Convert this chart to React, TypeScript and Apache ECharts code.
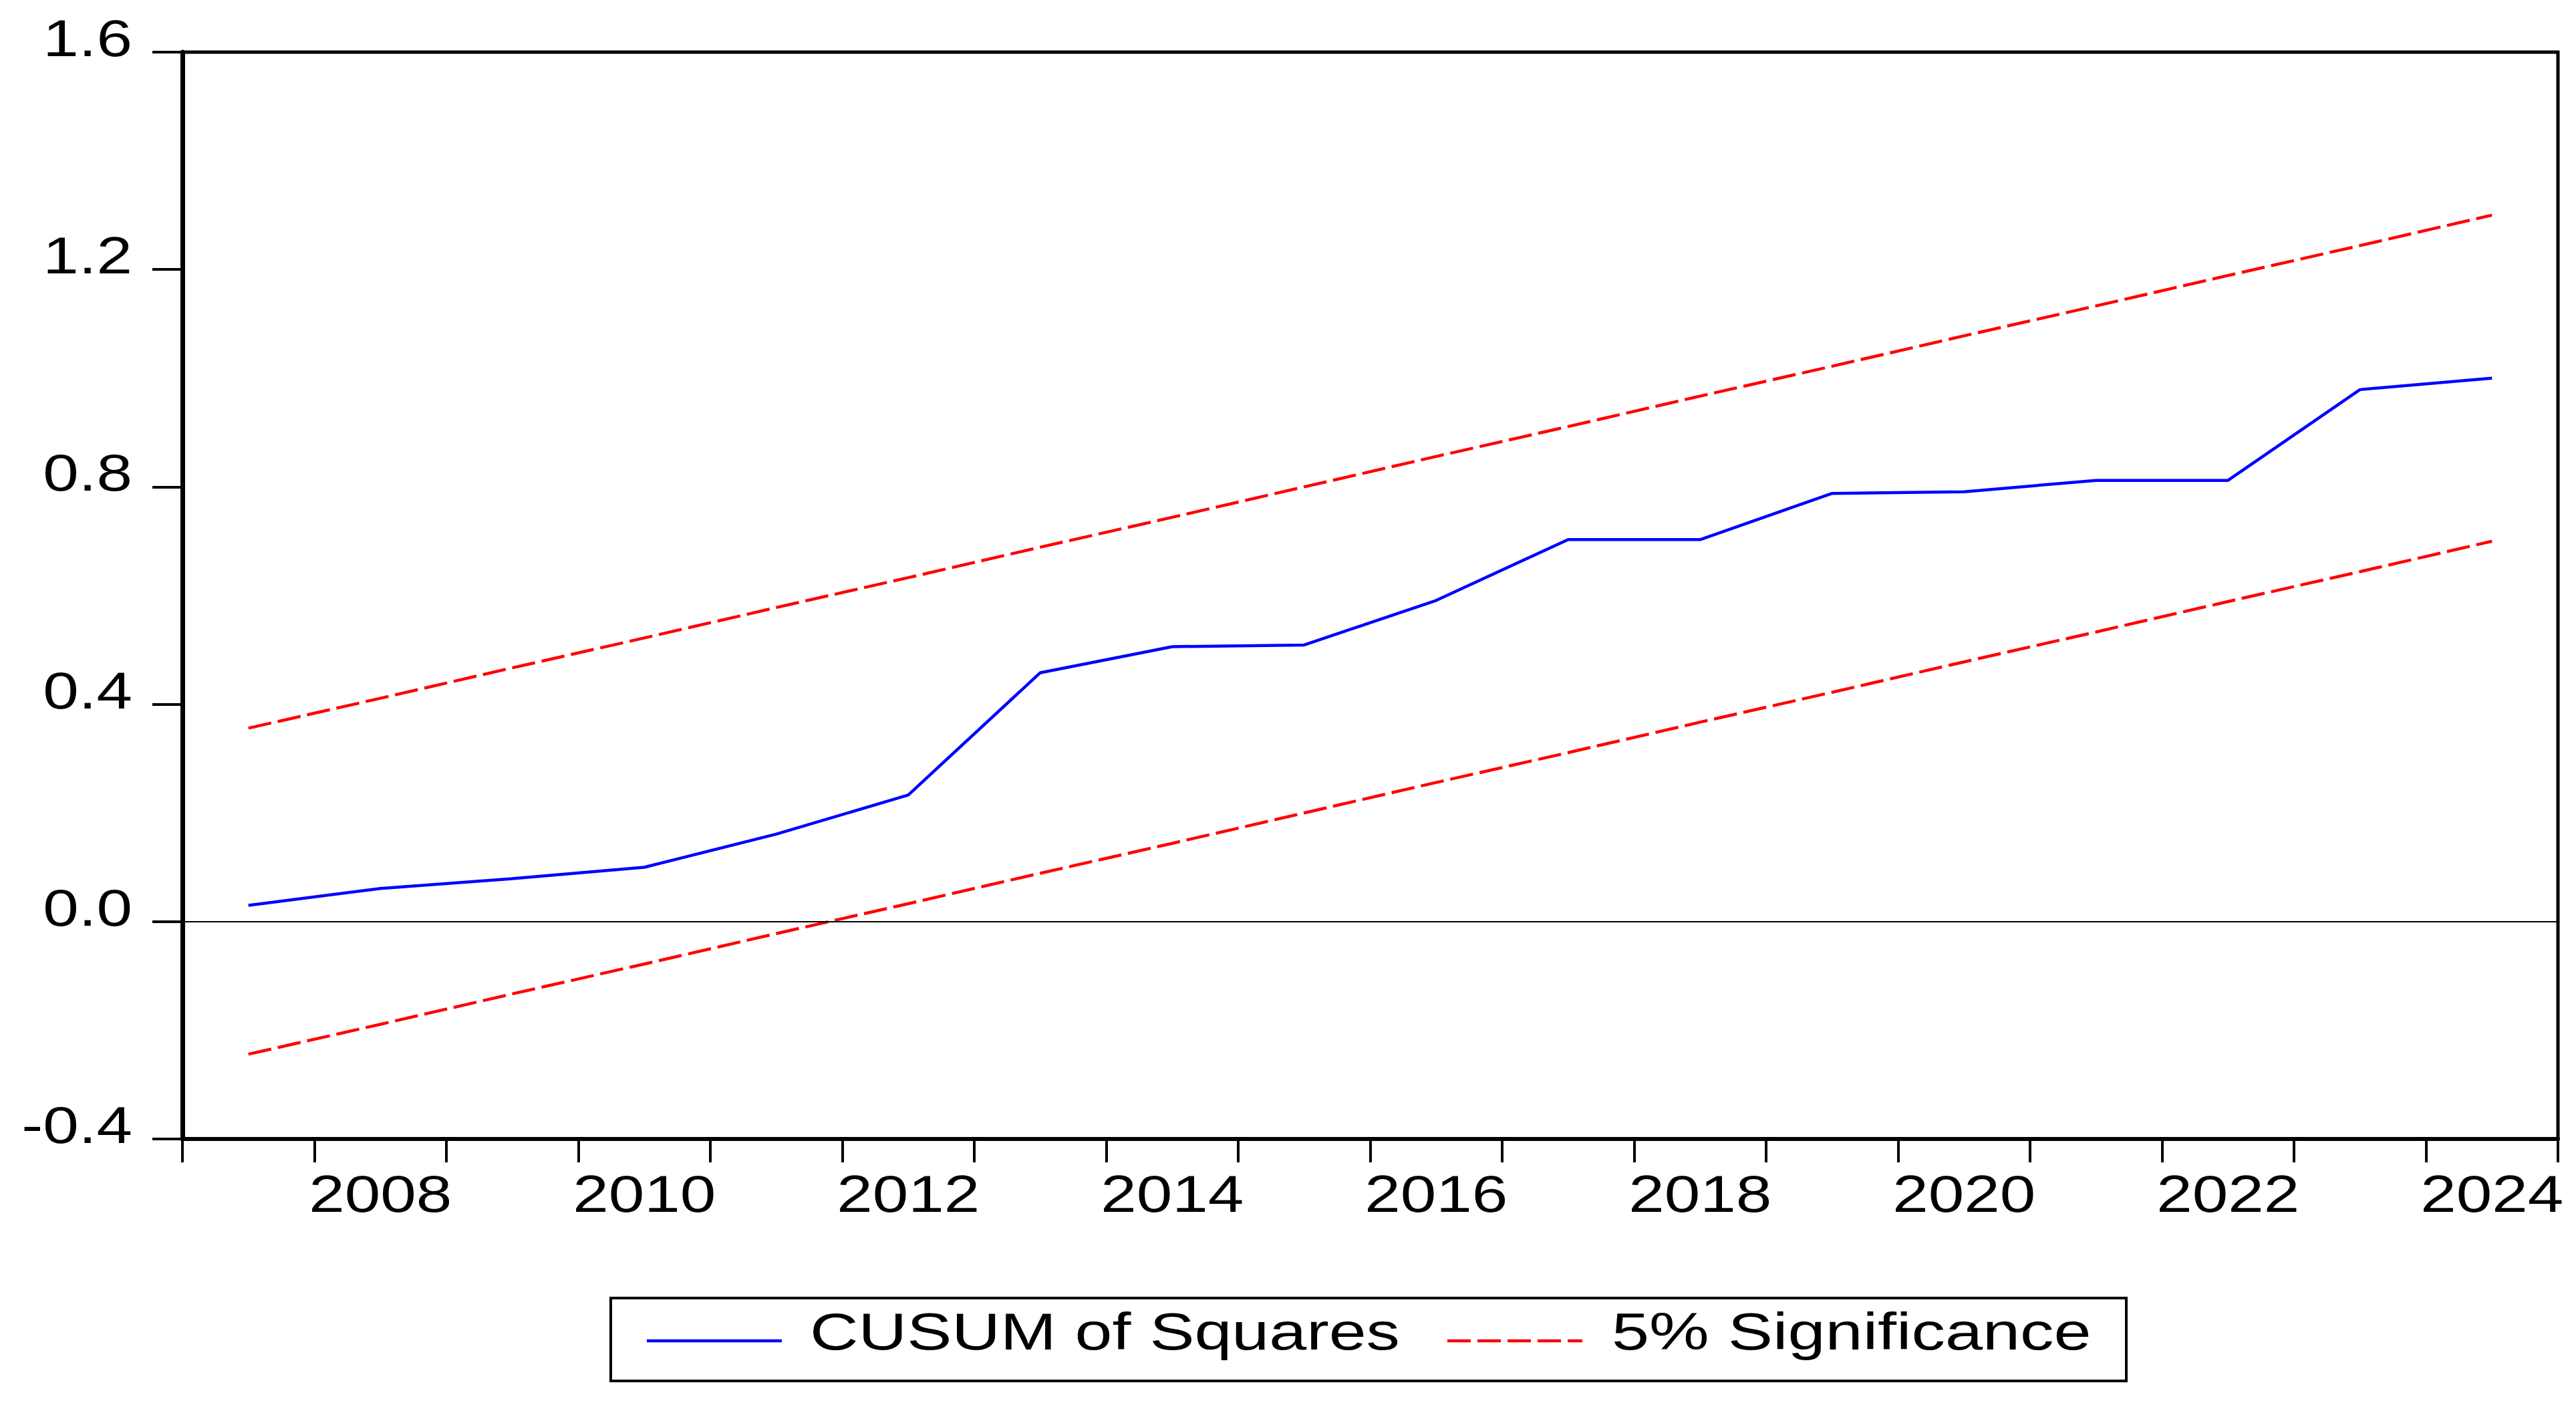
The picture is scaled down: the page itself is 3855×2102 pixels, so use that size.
import React, { useEffect, useRef } from "react";
import * as echarts from "echarts";

const years = ["2007","2008","2009","2010","2011","2012","2013","2014","2015","2016","2017","2018","2019","2020","2021","2022","2023","2024"];
const cusumSquares = [0.030,0.061,0.079,0.100,0.161,0.233,0.458,0.506,0.509,0.591,0.703,0.703,0.788,0.791,0.812,0.812,0.979,1.000];
const upperBound = [0.356,0.411,0.467,0.522,0.578,0.633,0.689,0.744,0.800,0.856,0.911,0.967,1.022,1.078,1.133,1.189,1.244,1.300];
const lowerBound = [-0.244,-0.189,-0.133,-0.078,-0.022,0.033,0.089,0.144,0.200,0.256,0.311,0.367,0.422,0.478,0.533,0.589,0.644,0.700];
const xTickLabels = ["2008","2010","2012","2014","2016","2018","2020","2022","2024"];
const yTickValues = [-0.4, 0.0, 0.4, 0.8, 1.2, 1.6];
const yTicks = { min: -0.4, max: 1.6, interval: 0.4 };
const legendNames = ["CUSUM of Squares", "5% Significance"];

const FONT = "'Liberation Sans', Arial, sans-serif";
const BLUE = "#0000ff";
const RED = "#ff0000";
const DASH = [35, 10];

const GRID = { left: 273, top: 78, width: 3555, height: 1626 };

function txt(text: string, x: number, y: number, align: string, size: number, sx: number) {
  return {
    type: "text", x, y, scaleX: sx, scaleY: 1, silent: true, z: 10,
    style: {
      text, fill: "#000", fontSize: size, fontFamily: FONT,
      align, verticalAlign: "middle", textAlign: align, textVerticalAlign: "middle",
    },
  };
}

export default function App() {
  const ref = useRef<HTMLDivElement>(null);
  useEffect(() => {
    document.body.style.margin = "0";
    const chart = echarts.init(ref.current!, null, { renderer: "svg" });
    chart.setOption({
      animation: false,
      backgroundColor: "#ffffff",
      grid: {
        ...GRID,
        show: true, borderColor: "#000", borderWidth: 5, backgroundColor: "transparent",
      },
      xAxis: {
        type: "category",
        data: years,
        boundaryGap: true,
        axisLine: { onZero: false, lineStyle: { color: "#000", width: 6 } },
        axisTick: { show: true, interval: 0, length: 35, lineStyle: { color: "#000", width: 4 } },
        axisLabel: { show: false },
        splitLine: { show: false },
      },
      yAxis: {
        type: "value",
        min: yTicks.min, max: yTicks.max, interval: yTicks.interval,
        axisLine: { show: true, lineStyle: { color: "#000", width: 7 } },
        axisTick: { show: true, length: 45, lineStyle: { color: "#000", width: 4 } },
        axisLabel: { show: false },
        splitLine: { show: false },
      },
      series: [
        {
          name: legendNames[0], type: "line", data: cusumSquares,
          symbol: "none", lineStyle: { color: BLUE, width: 4.5 }, itemStyle: { color: BLUE },
          z: 3,
          markLine: {
            silent: true, symbol: "none", label: { show: false },
            lineStyle: { color: "#000", width: 2, type: "solid" },
            data: [{ yAxis: 0 }],
          },
        },
        {
          name: legendNames[1], type: "line", data: upperBound,
          symbol: "none", lineStyle: { color: RED, width: 4.5, type: DASH }, itemStyle: { color: RED },
        },
        {
          name: legendNames[1], type: "line", data: lowerBound,
          symbol: "none", lineStyle: { color: RED, width: 4.5, type: DASH }, itemStyle: { color: RED },
        },
      ],
    });

    const graphics: any[] = [];
    const axisBottom = chart.convertToPixel({ yAxisIndex: 0 }, yTicks.min) as number;
    xTickLabels.forEach((label) => {
      const px = chart.convertToPixel({ xAxisIndex: 0 }, label) as number;
      graphics.push(txt(label, px, axisBottom + 82, "center", 77, 1.25));
    });
    yTickValues.forEach((v) => {
      const py = chart.convertToPixel({ yAxisIndex: 0 }, v) as number;
      graphics.push(txt(v.toFixed(1), GRID.left - 75, py - 21, "right", 77, 1.25));
    });
    // legend box
    graphics.push({
      type: "rect", silent: true, z: 10,
      shape: { x: 914, y: 1942, width: 2268, height: 124 },
      style: { fill: "none", stroke: "#000", lineWidth: 4 },
    });
    graphics.push({
      type: "line", silent: true, z: 10,
      shape: { x1: 968, y1: 2006, x2: 1170, y2: 2006 },
      style: { stroke: BLUE, lineWidth: 4.5 },
    });
    graphics.push(txt(legendNames[0], 1212, 1992, "left", 77, 1.306));
    graphics.push({
      type: "line", silent: true, z: 10,
      shape: { x1: 2166, y1: 2006, x2: 2368, y2: 2006 },
      style: { stroke: RED, lineWidth: 4.5, lineDash: DASH },
    });
    graphics.push(txt(legendNames[1], 2412, 1992, "left", 77, 1.31));
    chart.setOption({ graphic: graphics });

    return () => chart.dispose();
  }, []);
  return <div ref={ref} style={{ width: 3855, height: 2102 }} />;
}
